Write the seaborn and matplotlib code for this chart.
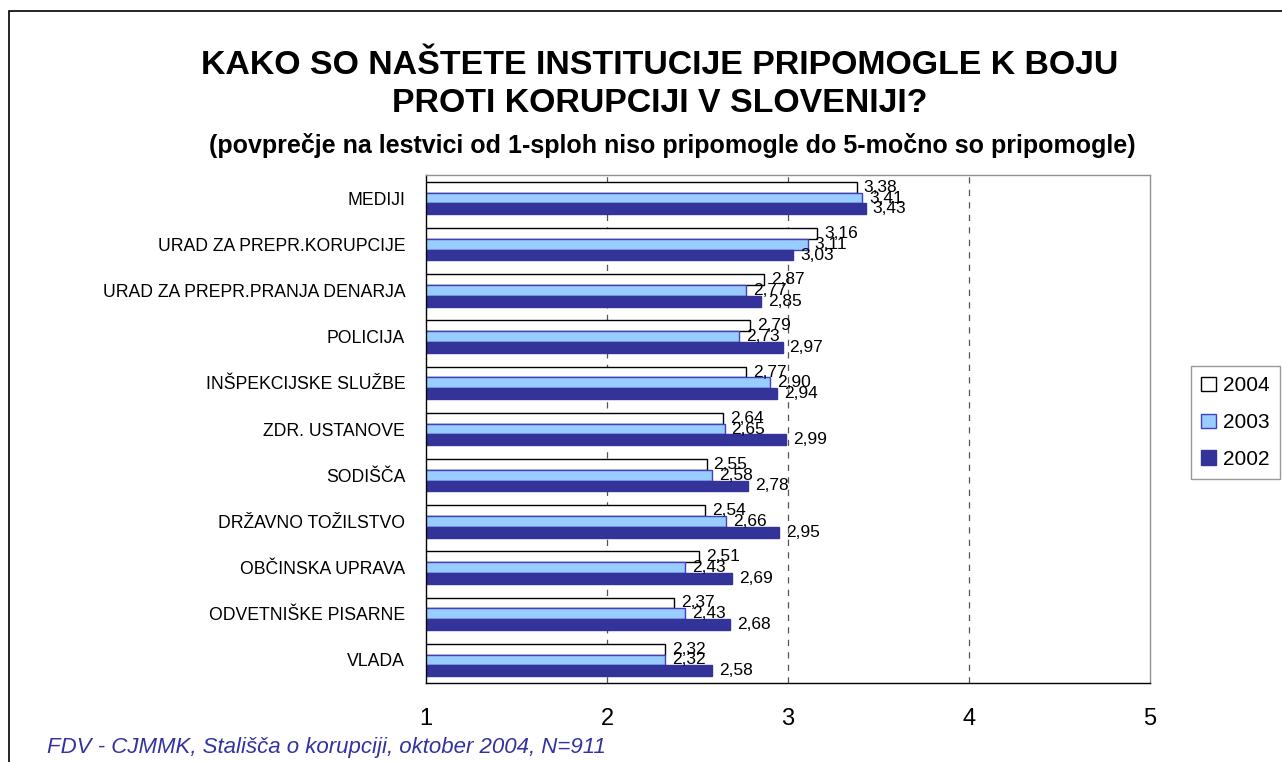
import matplotlib
matplotlib.use("Agg")
import matplotlib.pyplot as plt
import seaborn as sns
import pandas as pd
from matplotlib.patches import Rectangle, Patch

categories = ["MEDIJI", "URAD ZA PREPR.KORUPCIJE", "URAD ZA PREPR.PRANJA DENARJA",
              "POLICIJA", "INŠPEKCIJSKE SLUŽBE", "ZDR. USTANOVE", "SODIŠČA",
              "DRŽAVNO TOŽILSTVO", "OBČINSKA UPRAVA", "ODVETNIŠKE PISARNE", "VLADA"]
years = ["2004", "2003", "2002"]
v2004 = [3.38, 3.16, 2.87, 2.79, 2.77, 2.64, 2.55, 2.54, 2.51, 2.37, 2.32]
v2003 = [3.41, 3.11, 2.77, 2.73, 2.90, 2.65, 2.58, 2.66, 2.43, 2.43, 2.32]
v2002 = [3.43, 3.03, 2.85, 2.97, 2.94, 2.99, 2.78, 2.95, 2.69, 2.68, 2.58]
x_ticks = [1, 2, 3, 4, 5]

series = {"2004": v2004, "2003": v2003, "2002": v2002}
rows = []
for y in years:
    for c, v in zip(categories, series[y]):
        rows.append({"cat": c, "year": y, "val": v})
df = pd.DataFrame(rows)

face = {"2004": "#FFFFFF", "2003": "#99CCFF", "2002": "#333399"}
edge = {"2004": "#000000", "2003": "#4040C0", "2002": "#333399"}

sns.set_style("white")
plt.rcParams["font.family"] = ["Liberation Sans", "DejaVu Sans"]
for k in ["text.color", "axes.labelcolor", "xtick.color", "ytick.color"]:
    plt.rcParams[k] = "black"

fig = plt.figure(figsize=(12.82, 7.62), dpi=100)
ax = fig.add_axes([426/1282, 1-683/762, (1150-426)/1282, (683-175)/762])

sns.barplot(data=df, y="cat", x="val", hue="year", hue_order=years, order=categories,
            palette=face, orient="h", width=0.7, ax=ax, legend=False,
            saturation=1, errorbar=None)

for cont, y in zip(ax.containers, years):
    for p in cont:
        p.set_edgecolor(edge[y])
        p.set_linewidth(1.0)
    labels = [f"{v:.2f}".replace(".", ",") for v in series[y]]
    ax.bar_label(cont, labels=labels, padding=5, fontsize=12.5, color="black")

ax.set_xlim(1, 5)
ax.set_xticks(x_ticks)
ax.set_xticklabels([str(t) for t in x_ticks], fontsize=17)
ax.set_ylim(len(categories) - 0.5, -0.5)
ax.set_xlabel("")
ax.set_ylabel("")
ax.tick_params(axis="y", which="major", length=0, pad=15, labelsize=12.7)
ax.set_yticks([i + 0.5 for i in range(-1, len(categories))], minor=True)
ax.tick_params(axis="y", which="minor", length=5, direction="out", color="black")
ax.tick_params(axis="x", which="major", length=6, direction="out", color="black", pad=12)
for g in [2, 3, 4]:
    ax.axvline(g, color="#555555", linestyle=(0, (5, 5)), linewidth=0.9, zorder=0)
ax.grid(False)
for s in ["left", "bottom"]:
    ax.spines[s].set_color("black")
    ax.spines[s].set_linewidth(1.0)
for s in ["top", "right"]:
    ax.spines[s].set_color("#909090")
    ax.spines[s].set_linewidth(1.0)
    ax.spines[s].set_visible(True)

fig.text(660/1282, 1-66/762, "KAKO SO NAŠTETE INSTITUCIJE PRIPOMOGLE K BOJU",
         ha="center", va="center", fontsize=24.4, fontweight="bold")
fig.text(660/1282, 1-103/762, "PROTI KORUPCIJI V SLOVENIJI?",
         ha="center", va="center", fontsize=24.4, fontweight="bold")
fig.text(672/1282, 1-146/762,
         "(povprečje na lestvici od 1-sploh niso pripomogle do 5-močno so pripomogle)",
         ha="center", va="center", fontsize=18, fontweight="bold")
fig.text(47/1282, 1-748/762, "FDV - CJMMK, Stališča o korupciji, oktober 2004, N=911",
         ha="left", va="center", fontsize=16, style="italic", color="#3333A0")

fig.patches.append(Rectangle((9/1282, -0.1), 1.2, 1 - 11/762 + 0.1,
                             transform=fig.transFigure, fill=False,
                             edgecolor="black", linewidth=1.2, zorder=0))

handles = [Patch(facecolor=face[y], edgecolor=edge[y], label=y) for y in years]
leg = fig.legend(handles=handles, loc="upper left",
                 bbox_to_anchor=(1191/1282, 1-366/762), fontsize=15,
                 frameon=True, fancybox=False, edgecolor="#808080",
                 handlelength=0.7, handleheight=0.7, handletextpad=0.35,
                 labelspacing=0.85, borderpad=0.5, borderaxespad=0)
leg.get_frame().set_linewidth(1.0)

fig.savefig("out.png", dpi=100)
